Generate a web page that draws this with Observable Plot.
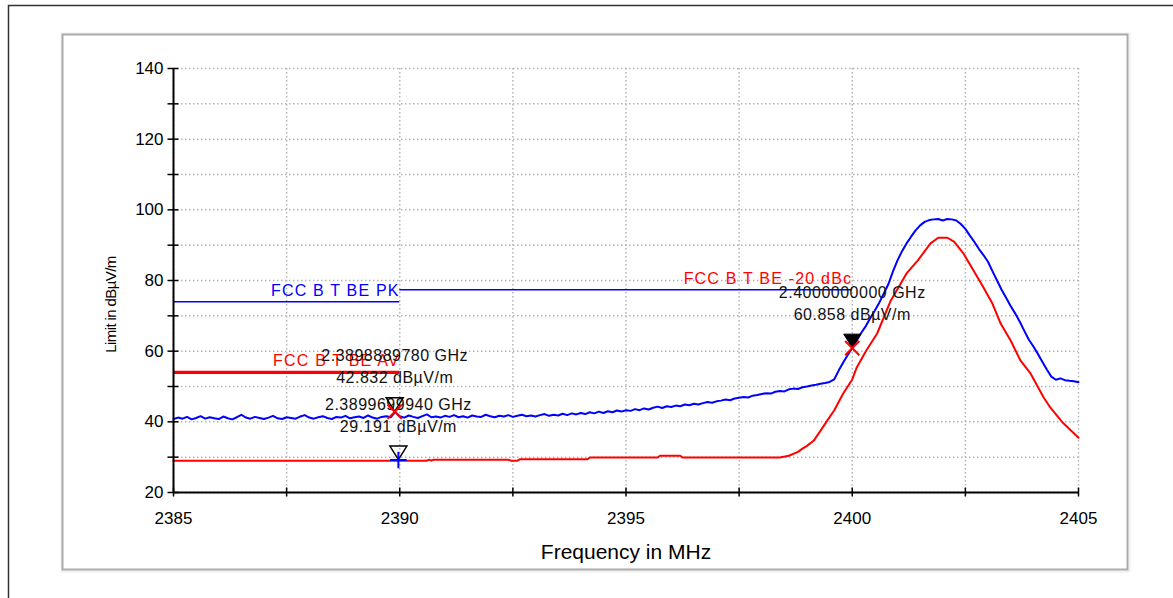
<!DOCTYPE html>
<html><head><meta charset="utf-8">
<script src="https://cdn.jsdelivr.net/npm/d3@7"></script>
<script src="https://cdn.jsdelivr.net/npm/@observablehq/plot@0.6"></script>
<style>body{margin:0;background:#fff;} svg{display:block;}</style>
</head><body><div id="chart"></div>
<script>
// ---- data ----
const freqDomain = [2385, 2405];
const levelDomain = [20, 140];
const sweepStart = 2385, sweepStep = 0.1;
// Peak detector trace (blue), one reading per 0.1 MHz from 2385 to 2405
const peakLevels = [
 40.8,41.2,40.9,41.4,40.7,41.1,41.6,40.9,41.3,41.0,40.8,
 41.5,41.0,40.7,41.3,42.0,41.2,40.9,41.4,41.1,40.8,
 41.2,41.7,41.0,40.8,41.3,41.1,40.9,41.5,41.9,41.2,
 40.9,41.3,41.6,41.1,40.8,41.4,41.2,41.7,41.0,41.3,
 41.5,41.1,41.8,41.2,40.9,41.4,41.6,41.3,42.8,41.6,
 41.2,41.8,41.4,41.1,41.6,42.1,41.3,41.5,41.2,41.7,
 41.4,41.9,41.3,41.6,41.2,41.8,41.5,41.4,42.0,41.6,
 41.3,41.7,41.5,41.9,41.4,41.7,42.0,41.6,41.8,41.5,
 41.9,42.2,41.7,42.0,41.8,42.3,41.9,42.4,42.1,42.5,
 42.2,42.7,42.4,42.9,42.5,43.0,42.7,43.2,42.9,43.3,
 43.1,43.6,43.3,43.8,43.5,44.0,44.3,43.9,44.4,44.2,
 44.6,44.4,44.9,44.7,45.1,44.9,45.3,45.6,45.4,45.8,
 46.0,46.3,46.1,46.6,46.8,47.0,46.9,47.4,47.6,47.9,
 48.1,48.0,48.5,48.7,48.6,49.2,49.4,49.3,49.8,50.0,
 50.3,50.5,50.8,51.0,51.3,52.0,54.5,56.8,58.9,60.9,
 63.0,65.2,67.1,69.4,71.5,73.8,76.4,79.0,82.6,85.7,
 88.3,90.5,92.4,94.2,95.6,96.6,97.1,97.3,97.4,97.0,
 97.4,97.3,97.0,96.0,94.6,92.7,90.9,88.9,87.2,85.3,
 82.6,80.0,77.4,75.1,72.8,70.7,68.4,65.8,63.3,61.4,
 59.3,57.0,54.8,52.8,51.9,52.3,51.8,51.6,51.5,51.2
];
// Average detector trace (red)
const avgFreq = [2385,2390.6,2390.65,2390.7,2390.75,2392.4,2392.45,2392.6,2392.65,2394.15,2394.2,2395.7,2395.75,2396.2,2396.25,2398.4,2398.6,2398.8,2398.9,2399.0,2399.15,2399.3,2399.45,2399.6,2399.8,2400.0,2400.1,2400.3,2400.55,2400.85,2401.2,2401.45,2401.73,2401.9,2402.1,2402.25,2402.46,2402.68,2402.9,2403.1,2403.28,2403.5,2403.72,2403.94,2404.23,2404.38,2404.65,2405];
const avgLevel = [29.0,29.0,29.3,29.0,29.3,29.3,29.0,29.0,29.4,29.4,29.9,29.9,30.4,30.4,29.9,29.9,30.4,31.5,32.4,33.2,34.7,37.5,40.4,43.2,48.0,52.0,55.4,60.0,65.0,74.3,82.0,85.7,90.5,92.1,92.1,91.0,87.6,82.8,78.0,73.4,67.8,63.0,57.3,53.7,46.9,44.0,39.8,35.5];
// Limit lines
const limitNames = ["FCC B T BE PK", "FCC B T BE AV", "FCC B T BE -20 dBc"];
const limitStart = [2385, 2385, 2390];
const limitEnd = [2390, 2390, 2400];
const limitLevel = [74, 54, 77.4];
// Markers
const markerFreq = [2389.888978, 2389.969994, 2400.0];
const markerLevel = [42.832, 29.191, 60.858];
const markerFreqLabels = ["2.3898889780 GHz", "2.3899699940 GHz", "2.4000000000 GHz"];
const markerLevelLabels = ["42.832 dBµV/m", "29.191 dBµV/m", "60.858 dBµV/m"];
// Ticks
const xLabelTicks = [2385, 2390, 2395, 2400, 2405];
const xAllTicks = [2385, 2387.5, 2390, 2392.5, 2395, 2397.5, 2400, 2402.5, 2405];
const yLabelTicks = [20, 40, 60, 80, 100, 120, 140];
const yAllTicks = [20, 30, 40, 50, 60, 70, 80, 90, 100, 110, 120, 130, 140];
const xTitle = "Frequency in MHz";
const yTitle = "Limit in dBµV/m";

// ---- tables ----
const peak = peakLevels.map((v, i) => ({f: +(sweepStart + i * sweepStep).toFixed(2), v}));
const avg = avgFreq.map((f, i) => ({f, v: avgLevel[i]}));
const limits = limitNames.map((name, i) => ({name, x1: limitStart[i], x2: limitEnd[i], level: limitLevel[i]}));
const markers = markerFreq.map((f, i) => ({f, v: markerLevel[i], fl: markerFreqLabels[i], vl: markerLevelLabels[i]}));

const BLUE = "#0000ff", RED = "#ff0000";
const triDown = {draw(ctx) { ctx.moveTo(-8.5, -14); ctx.lineTo(8.5, -14); ctx.lineTo(0, -0.5); ctx.closePath(); }};

const chart = Plot.plot({
  width: 1173, height: 598,
  marginLeft: 173, marginRight: 95, marginTop: 68, marginBottom: 106,
  x: {domain: freqDomain},
  y: {domain: levelDomain},
  style: {fontFamily: "'Liberation Sans', Arial, sans-serif", background: "#fff", color: "#000"},
  marks: [
    Plot.frame({stroke: "#333", strokeWidth: 1.5, insetLeft: -165, insetTop: -63, insetRight: -120, insetBottom: -130}),
    Plot.frame({stroke: "#f0f0f0", strokeWidth: 2, insetLeft: -112, insetTop: -35, insetRight: -51, insetBottom: -79}),
    Plot.frame({stroke: "#ababab", strokeWidth: 2, insetLeft: -111, insetTop: -34, insetRight: -49, insetBottom: -77}),
    Plot.gridX(xAllTicks, {stroke: "#b5b5b5", strokeOpacity: 1, strokeWidth: 1.5, strokeDasharray: "1.5,2.5"}),
    Plot.gridY(yAllTicks, {stroke: "#b5b5b5", strokeOpacity: 1, strokeWidth: 1.5, strokeDasharray: "1.5,2.5"}),
    // limit lines
    Plot.ruleY(limits.filter(d => d.name.endsWith("PK")), {y: "level", x1: "x1", x2: "x2", stroke: BLUE, strokeWidth: 1.5}),
    Plot.ruleY(limits.filter(d => d.name.endsWith("dBc")), {y: "level", x1: "x1", x2: "x2", stroke: BLUE, strokeWidth: 1.5}),
    Plot.ruleY(limits.filter(d => d.name.endsWith("AV")), {y: "level", x1: "x1", x2: "x2", stroke: RED, strokeWidth: 3.2}),
    // limit labels
    Plot.text(limits.filter(d => d.name.endsWith("PK")), {x: "x2", y: "level", text: "name", textAnchor: "end", dy: -11, fill: BLUE, fontSize: 16}),
    Plot.text(limits.filter(d => !d.name.endsWith("PK")), {x: "x2", y: "level", text: "name", textAnchor: "end", dy: -11, fill: RED, fontSize: 16}),
    // traces
    Plot.line(avg, {x: "f", y: "v", stroke: RED, strokeWidth: 2}),
    Plot.line(peak, {x: "f", y: "v", stroke: BLUE, strokeWidth: 2}),
    // marker texts
    Plot.text(markers, {x: "f", y: "v", text: "fl", dy: -55.5, fontSize: 16, fill: "#111"}),
    Plot.text(markers, {x: "f", y: "v", text: "vl", dy: -33.5, fontSize: 16, fill: "#111"}),
    // marker symbols
    Plot.dot(markers.filter((d, i) => i !== 2), {x: "f", y: "v", symbol: triDown, fill: "none", stroke: "#000", strokeWidth: 1.5}),
    Plot.dot(markers.filter((d, i) => i === 2), {x: "f", y: "v", symbol: triDown, fill: "#000", stroke: "#000", strokeWidth: 1}),
    Plot.dot(markers.filter((d, i) => i !== 1), {x: "f", y: "v", symbol: "times", r: 6.5, stroke: RED, strokeWidth: 2}),
    Plot.dot(markers.filter((d, i) => i === 1), {x: "f", y: "v", symbol: "plus", r: 5.4, stroke: BLUE, strokeWidth: 2}),
    // axes
    Plot.axisX(xLabelTicks, {tickSize: 0, tickPadding: 19, fontSize: 17, label: null, tickFormat: d => String(d)}),
    Plot.axisY(yLabelTicks, {tickSize: 0, tickPadding: 10, fontSize: 17, label: null, tickFormat: d => String(d)}),
    Plot.ruleX([freqDomain[0]], {y1: levelDomain[0], y2: levelDomain[1], stroke: "#000", strokeWidth: 2}),
    Plot.ruleY([levelDomain[0]], {x1: freqDomain[0], x2: freqDomain[1], stroke: "#000", strokeWidth: 2}),
    Plot.ruleX(xAllTicks, {x: d => d, y1: levelDomain[0], y2: levelDomain[0], insetTop: -4.5, insetBottom: -4.5, stroke: "#000", strokeWidth: 1.5}),
    Plot.ruleY(yAllTicks, {y: d => d, x1: freqDomain[0], x2: freqDomain[0], insetLeft: -5.5, insetRight: -5.5, stroke: "#000", strokeWidth: 1.5}),
    // titles
    Plot.text([xTitle], {frameAnchor: "bottom", textAnchor: "middle", lineAnchor: "middle", dy: 59.5, fontSize: 21, fill: "#000"}),
    Plot.text([yTitle], {frameAnchor: "left", textAnchor: "middle", lineAnchor: "middle", dx: -62, dy: 24, rotate: -90, fontSize: 15, fill: "#000"})
  ]
});
document.getElementById("chart").appendChild(chart);
const limitSet = new Set(limitNames);
const markerSet = new Set([...markerFreqLabels, ...markerLevelLabels]);
d3.select(chart).selectAll("text").each(function() {
  const t = this.textContent;
  if (limitSet.has(t)) this.setAttribute("letter-spacing", "1.2px");
  else if (markerSet.has(t)) this.setAttribute("letter-spacing", "0.5px");
  else if (t === yTitle) this.setAttribute("letter-spacing", "-0.6px");
});
</script>
</body></html>
